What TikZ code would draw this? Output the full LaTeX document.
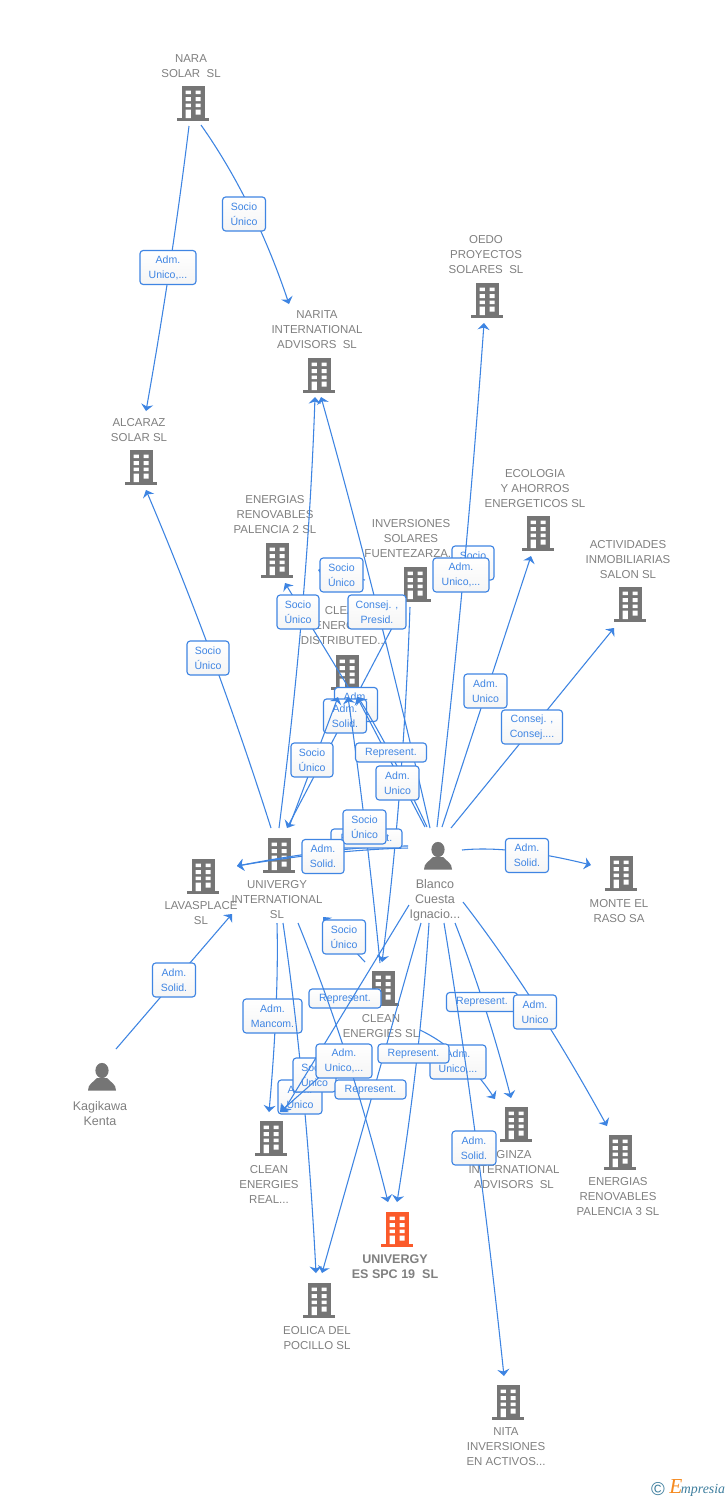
\documentclass[tikz,border=0pt]{standalone}
\usepackage{fontspec}
\setmainfont{Liberation Sans}
\usetikzlibrary{arrows.meta,calc}
\definecolor{edgeblue}{HTML}{3D84E2}
\definecolor{boxblue}{HTML}{3F85E3}
\definecolor{iconA}{HTML}{757575}
\definecolor{labgray}{HTML}{808080}
\definecolor{hot}{HTML}{FB5A2A}
\definecolor{logoblue}{HTML}{3E7E9E}
\definecolor{logoorange}{HTML}{F58A1F}
\tikzset{
  x=0.75pt,y=-0.75pt,
  edge/.style={draw=edgeblue,line width=0.8pt,-{Stealth[length=5pt,width=9pt,inset=1.6pt]}},
  iconnode/.style={inner sep=0pt,minimum width=24pt,minimum height=25pt},
  lblb/.style={font=\fontsize{8.6}{11.25}\selectfont,text=labgray,align=center,inner sep=0pt,yshift=-0.75pt},
  lblp/.style={font=\fontsize{9.4}{11.25}\selectfont,text=labgray,align=center,inner sep=0pt,yshift=-0.75pt},
  lblhot/.style={font=\fontsize{9.4}{11.25}\selectfont\bfseries,text=labgray,align=center,inner sep=0pt,yshift=-0.75pt},
  tagbox/.style={draw=boxblue,line width=0.85pt,rounded corners=2.4pt,top color=white,bottom color=black!4,
    text=boxblue,font=\fontsize{7.9}{11.25}\selectfont,align=center,inner sep=0pt,
    execute at begin node={\vspace*{1.2pt}}},
}
% building icon: #1 name, #2 x, #3 y, #4 colour
\newcommand\bldg[4]{%
  \node[iconnode] (#1) at (#2,#3) {};
  \begin{scope}[shift={(#1.center)}]
    \fill[#4] (-11.5,-17) rectangle (11.5,15);
    \fill[#4] (-16,15) rectangle (16,17.5);
    \fill[white] (-7.3,-12.5) rectangle (-2.2,-8.8) (2.6,-12.5) rectangle (7.7,-8.8)
      (-7.3,-6) rectangle (-2.2,-2) (2.6,-6) rectangle (7.7,-2)
      (-7.3,0.5) rectangle (-2.2,4) (2.6,0.5) rectangle (7.7,4)
      (-7.3,6.5) rectangle (-2.2,15) (2.6,6.5) rectangle (7.7,11.5);
  \end{scope}}
% person icon
\newcommand\psn[3]{%
  \node[iconnode] (#1) at (#2,#3) {};
  \begin{scope}[shift={(#1.center)}]
    \fill[iconA] (0,-6.5) ellipse [x radius=6.6,y radius=7.6];
    \fill[iconA] (-14,13.5) .. controls (-14,7) and (-9,5.5) .. (-5,1) -- (5,1)
      .. controls (9,5.5) and (14,7) .. (14,13.5) -- cycle;
  \end{scope}}
\newcommand\conn[4]{\draw[edge] ([shift={(#2)}]#1.center) -- ([shift={(#4)}]#3.center);}
\newcommand\curv[5]{%
  \coordinate (pp) at ([shift={(#2)}]#1.center);
  \coordinate (qq) at ([shift={(#5)}]#4.center);
  \coordinate (cc) at (#3);
  \draw[edge] (pp) .. controls ($(pp)!2/3!(cc)$) and ($(qq)!2/3!(cc)$) .. (qq);}
% tag: #1 name, #2 x, #3 y, #4 w, #5 h, #6 text
\newcommand\tagb[6]{\node[tagbox,minimum width=#4*0.75pt,minimum height=#5*0.75pt] (#1) at (#2,#3) {#6};}
\begin{document}
\begin{tikzpicture}
\useasboundingbox (0,0) rectangle (728,1500);
\fill[white] (0,0) rectangle (728,1500);

% entities
\bldg{nara}{193}{103}{iconA}
\node[lblb] (naraT) at (191,65.5) {NARA\\SOLAR\ \ SL};
\bldg{alc}{141}{467}{iconA}
\node[lblb] (alcT) at (139,429.5) {ALCARAZ\\SOLAR SL};
\bldg{nar}{319}{375}{iconA}
\node[lblb] (narT) at (317,329) {NARITA\\INTERNATIONAL\\ADVISORS\ \ SL};
\bldg{oedo}{487}{300}{iconA}
\node[lblb] (oedoT) at (486,254) {OEDO\\PROYECTOS\\SOLARES\ \ SL};
\bldg{en2}{277}{560}{iconA}
\node[lblb] (en2T) at (275,514) {ENERGIAS\\RENOVABLES\\PALENCIA 2 SL};
\bldg{inv}{415}{584}{iconA}
\node[lblb] (invT) at (411,538) {INVERSIONES\\SOLARES\\FUENTEZARZA...};
\bldg{eco}{538}{533}{iconA}
\node[lblb] (ecoT) at (535,488) {ECOLOGIA\\Y AHORROS\\ENERGETICOS SL};
\bldg{act}{630}{604}{iconA}
\node[lblb] (actT) at (628,559) {ACTIVIDADES\\INMOBILIARIAS\\SALON SL};
\bldg{cdi}{347}{672}{iconA}
\node[lblb] (cdiT) at (344,625) {CLEAN\\ENERGIES\\DISTRIBUTED...};
\bldg{uni}{279}{855}{iconA}
\node[lblb] (uniT) at (277,899) {UNIVERGY\\INTERNATIONAL\\SL};
\bldg{lav}{203}{876}{iconA}
\node[lblb] (lavT) at (201,912.5) {LAVASPLACE\\SL};
\psn{bla}{438}{856}
\node[lblp] (blaT) at (435,899) {Blanco\\Cuesta\\Ignacio...};
\bldg{mon}{621}{873}{iconA}
\node[lblb] (monT) at (619,910.5) {MONTE EL\\RASO SA};
\psn{kag}{102}{1077}
\node[lblp] (kagT) at (100,1112.5) {Kagikawa\\Kenta};
\bldg{cle}{383}{988}{iconA}
\node[lblb] (cleT) at (381,1025.5) {CLEAN\\ENERGIES SL};
\bldg{cre}{271}{1138}{iconA}
\node[lblb] (creT) at (269,1183) {CLEAN\\ENERGIES\\REAL...};
\bldg{gin}{516}{1124}{iconA}
\node[lblb] (ginT) at (514,1169) {GINZA\\INTERNATIONAL\\ADVISORS\ \ SL};
\bldg{en3}{620}{1152}{iconA}
\node[lblb] (en3T) at (618,1196) {ENERGIAS\\RENOVABLES\\PALENCIA 3 SL};
\bldg{es}{397}{1229}{hot}
\node[lblhot] (esT) at (395,1265.5) {UNIVERGY\\ES SPC 19\ \ SL};
\bldg{eol}{319}{1300}{iconA}
\node[lblb] (eolT) at (317,1337.5) {EOLICA DEL\\POCILLO SL};
\bldg{nit}{508}{1402}{iconA}
\node[lblb] (nitT) at (506,1446) {NITA\\INVERSIONES\\EN ACTIVOS...};

% upper connectors and tags
\curv{nara}{-4,23}{172,265}{alc}{5,-56}
\tagb{t01}{168}{267.5}{56}{34}{Adm.\\Unico,...}
\curv{nara}{8,22}{254,200}{nar}{-30,-71}
\tagb{t02}{244}{214}{43}{34}{Socio\\Único}
\curv{uni}{-8,-27}{216,655}{alc}{5,23}
\tagb{t03}{208}{658}{42}{34}{Socio\\Único}
\curv{uni}{0,-27}{308,600}{nar}{-4,22}
\curv{bla}{-8,-28}{378,600}{nar}{2,22}
\conn{inv}{-12,23}{uni}{8,-27}
\conn{cdi}{3,18}{en2}{8,23}
\tagb{t04}{298}{612}{42}{34}{Socio\\Único}
\conn{inv}{-50,-4}{en2}{41,10}
\tagb{t05}{341.5}{575}{43}{34}{Socio\\Único}
\tagb{t06}{473}{563}{42}{34}{Socio\\Único}
\curv{bla}{-1,-29}{465,590}{oedo}{-3,23}
\tagb{t07}{461}{575}{56}{34}{Adm.\\Unico,...}
\curv{bla}{4,-29}{487,690}{eco}{-7,23}
\tagb{t08}{485.5}{691}{43}{34}{Adm.\\Unico}
\conn{bla}{13,-28}{act}{-16,24}
\tagb{t09}{532}{727}{61}{34}{Consej. ,\\Consej....}
\curv{bla}{24,-6}{510,845}{mon}{-30,-8}
\tagb{t10}{527}{855.5}{43}{34}{Adm.\\Solid.}
\conn{kag}{14,-28}{lav}{29,38}
\tagb{t11}{174}{980}{43}{34}{Adm.\\Solid.}
\curv{inv}{-5,23}{403,800}{cle}{-1,-26}

% cluster at CLEAN ENERGIES DISTRIBUTED
\tagb{t12}{356}{704.5}{43}{34}{Adm.\\Solid.}
\tagb{t13}{345}{716}{43}{34}{Adm.\\Solid.}
\conn{uni}{10,-28}{cdi}{-9,25}
\curv{cle}{-3,-25}{367,830}{cdi}{1,25}
\conn{bla}{-13,-29}{cdi}{10,25}
\curv{bla}{-11,-29}{392,752}{cdi}{11,25}
\tagb{t14}{312}{760}{42}{34}{Socio\\Único}
\tagb{t15}{391}{752.5}{71}{19}{Represent.}
\tagb{t16}{397.5}{783}{43}{34}{Adm.\\Unico}
\curv{bla}{-30,-10}{340,846}{lav}{34,-10}
\tagb{t17}{366.5}{838.5}{71}{19}{Represent.}
\tagb{t18}{364.5}{827}{43}{34}{Socio\\Único}
\curv{bla}{-30,-8}{330,850}{lav}{34,-10}
\tagb{t19}{323}{856.5}{42}{34}{Adm.\\Solid.}
\tagb{t20}{377}{612}{58}{34}{Consej. ,\\Presid.}

% lower connectors and tags
\conn{cle}{-18,-26}{uni}{44,62}
\tagb{t21}{344}{937}{43}{34}{Socio\\Único}
\curv{uni}{-2,68}{279,1000}{cre}{-2,-26}
\tagb{t22}{272.5}{1016}{59}{34}{Adm.\\Mancom.}
\curv{uni}{4,68}{306,1080}{eol}{-3,-27}
\tagb{t23}{300}{1097}{44}{34}{Adm.\\Unico}
\tagb{t24}{314.5}{1075}{43}{34}{Socio\\Único}
\conn{cle}{-33,62}{cre}{9,-26}
\tagb{t25}{345}{998.5}{72}{19}{Represent.}
\conn{bla}{-29,49}{cre}{12,-26}
\conn{bla}{-17,67}{eol}{3,-27}
\tagb{t26}{370.5}{1089.5}{71}{19}{Represent.}
\curv{uni}{19,68}{350,1050}{es}{-9,-27}
\tagb{t27}{344}{1061}{56}{34}{Adm.\\Unico,...}
\curv{cle}{37,42}{462,1050}{gin}{-21,-25}
\tagb{t28}{458}{1062}{56}{34}{Adm.\\Unico,...}
\curv{bla}{-9,67}{420,1060}{es}{0,-27}
\tagb{t29}{413.5}{1053.5}{71}{19}{Represent.}
\curv{bla}{17,67}{487,1005}{gin}{-5,-26}
\tagb{t30}{482}{1002}{71}{19}{Represent.}
\curv{bla}{25,46}{535,995}{en3}{-13,-26}
\tagb{t31}{535}{1012}{43}{34}{Adm.\\Unico}
\curv{bla}{6,67}{478,1130}{nit}{-4,-26}
\tagb{t32}{474}{1148}{44}{34}{Adm.\\Solid.}

% footer
\node[inner sep=0pt,text=logoblue,font=\fontsize{14}{14}\selectfont] (cpr) at (658,1489) {©};
\node[inner sep=0pt,anchor=base west,font=\fontsize{10.4}{12}\selectfont] (brand) at (669,1493.5)
  {\textcolor{logoorange}{\fontspec{Liberation Serif}\itshape\fontsize{16}{16}\selectfont E}\hspace{-1pt}\textcolor{logoblue}{\fontspec{Liberation Serif}\itshape mpresia}};
\end{tikzpicture}
\end{document}
